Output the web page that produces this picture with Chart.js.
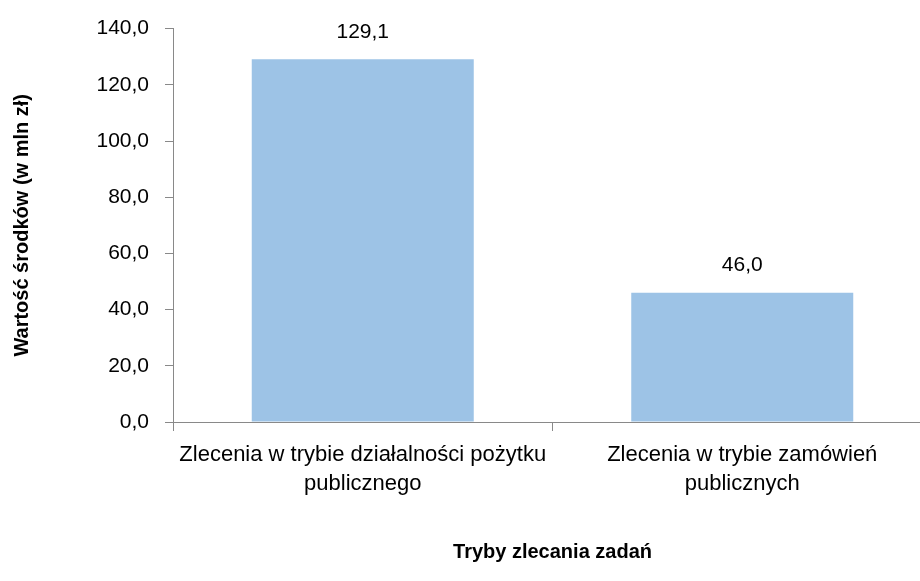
<!DOCTYPE html>
<html>
<head>
<meta charset="utf-8">
<script src="https://cdn.jsdelivr.net/npm/chart.js@4/dist/chart.umd.min.js"></script>
<style>
  html, body { margin: 0; padding: 0; background: #fff; overflow: hidden; }
  #wrap { width: 940px; height: 581px; }
</style>
</head>
<body>
<div id="wrap"><canvas id="myChart" width="940" height="581"></canvas></div>
<script>
// kategorie i wartości (mln zł)
var kategorie = [
    ["Zlecenia w trybie działalności pożytku", "publicznego"],
    ["Zlecenia w trybie zamówień", "publicznych"]
];
var wartosci = [129.1, 46.0];
var osY = [0, 20, 40, 60, 80, 100, 120, 140];

var czcionka = "'Liberation Sans', Arial, sans-serif";
var szary = "#898989";

function liczba(v) {
    return v.toFixed(1).replace(".", ",");
}

// etykiety z wartościami nad słupkami
const etykiety = {
    id: "etykiety",
    afterDatasetsDraw(chart) {
        const ctx = chart.ctx;
        const meta = chart.getDatasetMeta(0);
        ctx.save();
        ctx.font = "21px " + czcionka;
        ctx.fillStyle = "#000";
        ctx.textAlign = "center";
        ctx.textBaseline = "bottom";
        meta.data.forEach((bar, i) => {
            ctx.fillText(liczba(wartosci[i]), bar.x, bar.y - 17);
        });
        ctx.restore();
    }
};

const ctx = document.getElementById('myChart');

var wykres = new Chart(ctx, {
    type: 'bar',
    data: {
        labels: kategorie,
        datasets: [{
            data: wartosci,
            backgroundColor: "#9DC3E6",
            borderWidth: 0,
            barPercentage: 0.585,
            categoryPercentage: 1
        }]
    },
    plugins: [etykiety],
    options: {
        responsive: false,
        animation: false,
        layout: {
            padding: { top: 24, right: 8, bottom: 0, left: 0 }
        },
        plugins: {
            legend: { display: false },
            tooltip: { enabled: false }
        },
        scales: {
            x: {
                border: { color: szary, width: 1 },
                grid: {
                    offset: true,
                    drawOnChartArea: false,
                    drawTicks: true,
                    tickLength: 9,
                    color: szary
                },
                ticks: {
                    color: "#000",
                    font: { family: czcionka, size: 22, lineHeight: 1.3 },
                    padding: 10,
                    maxRotation: 0
                },
                title: {
                    display: true,
                    text: "Tryby zlecania zadań",
                    color: "#000",
                    font: { family: czcionka, size: 20, weight: "bold" },
                    padding: { top: 0, bottom: 17 }
                },
                afterFit(scale) {
                    scale.height = 159;
                }
            },
            y: {
                min: 0,
                max: 140,
                border: { color: szary, width: 1 },
                grid: {
                    drawOnChartArea: false,
                    drawTicks: true,
                    tickLength: 8,
                    color: szary
                },
                afterBuildTicks(scale) {
                    scale.ticks = osY.map(v => ({ value: v }));
                },
                ticks: {
                    color: "#000",
                    font: { family: czcionka, size: 21 },
                    padding: 16,
                    callback: v => liczba(v)
                },
                title: {
                    display: true,
                    text: "Wartość środków (w mln zł)",
                    color: "#000",
                    font: { family: czcionka, size: 20, weight: "bold" },
                    padding: { top: 10, bottom: 0 }
                },
                afterFit(scale) {
                    scale.width = 173;
                }
            }
        }
    }
});
</script>
</body>
</html>
